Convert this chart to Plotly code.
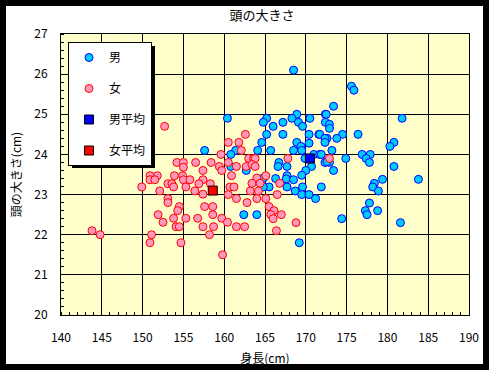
import plotly.graph_objects as go

# ---- data ----
male_height = [168.5, 175.6, 175.9, 173.4, 168.9, 172.4, 172.5, 160.4, 165.2, 168.3, 170.5, 181.8,
               164.8, 167.2, 169.1, 172.4, 172.9, 166.0, 169.6, 172.9, 165.2, 167.2, 170.4, 171.6,
               171.7, 174.5, 176.4, 172.6, 172.35, 173.8, 164.6, 168.9, 170.4, 172.35, 180.8, 169.4,
               180.3, 157.6, 161.4, 164.1, 165.7, 168.5, 169.5, 173.2, 160.8, 171.0, 171.7, 171.9,
               176.9, 177.9, 169.9, 174.9, 177.4, 166.7, 172.35, 172.9, 177.8, 172.6, 167.7, 166.6,
               170.7, 160.8, 180.8, 162.7, 170.0, 173.4, 169.5, 167.7, 164.8, 166.3, 167.6, 168.5,
               179.4, 183.8, 178.4, 165.5, 164.8, 167.7, 169.6, 171.9, 178.2, 168.7, 178.9, 169.5,
               170.4, 171.2, 177.8, 177.3, 178.8, 162.4, 164.0, 177.5, 174.4, 181.6, 169.2]
male_head = [26.1, 25.7, 25.6, 25.2, 25.0, 25.0, 25.0, 24.9, 24.9, 24.9, 24.9, 24.9,
             24.8, 24.8, 24.8, 24.8, 24.75, 24.7, 24.7, 24.65, 24.5, 24.5, 24.5, 24.5,
             24.5, 24.5, 24.5, 24.4, 24.4, 24.4, 24.3, 24.3, 24.28, 24.3, 24.3, 24.2,
             24.2, 24.1, 24.1, 24.1, 24.1, 24.1, 24.1, 24.1, 24.0, 24.0, 24.0, 24.0,
             24.0, 24.0, 23.9, 23.9, 23.9, 23.8, 23.8, 23.8, 23.8, 23.82, 23.7, 23.7,
             23.7, 23.7, 23.7, 23.6, 23.6, 23.6, 23.48, 23.47, 23.41, 23.4, 23.39, 23.37,
             23.38, 23.38, 23.28, 23.19, 23.19, 23.19, 23.19, 23.19, 23.19, 23.09, 23.09, 23.0,
             23.0, 22.9, 22.79, 22.6, 22.6, 22.5, 22.5, 22.5, 22.4, 22.3, 21.8]

female_height = [152.7, 162.6, 160.5, 161.8, 162.1, 159.6, 163.0, 163.6, 163.8, 167.8, 172.9,
                 154.2, 155.0, 156.5, 158.4, 160.5, 155.0, 159.4, 161.5, 162.7, 163.4, 163.8,
                 157.4, 159.7, 150.9, 151.8, 153.9, 154.9, 160.9, 165.1, 150.9, 151.5, 155.0,
                 155.8, 157.4, 164.0, 153.1, 153.6, 156.9, 158.3, 163.4, 164.4, 166.8, 149.9,
                 153.8, 155.3, 160.7, 161.2, 152.1, 156.4, 163.2, 164.2, 157.4, 160.5, 166.5,
                 153.1, 161.5, 164.0, 165.1, 153.1, 162.8, 154.5, 157.6, 158.6, 165.5, 154.3,
                 166.1, 151.9, 158.6, 165.7, 167.0, 153.8, 155.3, 156.75, 159.7, 166.0, 152.5,
                 160.4, 168.8, 154.1, 154.5, 157.4, 158.7, 161.5, 162.5, 143.8, 166.4, 144.8,
                 151.1, 158.2, 150.9, 154.7, 159.8]
female_head = [24.7, 24.5, 24.3, 24.3, 24.1, 24.0, 23.9, 23.9, 23.9, 23.9, 23.9,
               23.8, 23.8, 23.8, 23.8, 23.8, 23.68, 23.7, 23.7, 23.7, 23.75, 23.7,
               23.6, 23.6, 23.47, 23.47, 23.47, 23.47, 23.47, 23.47, 23.37, 23.37, 23.37,
               23.37, 23.37, 23.41, 23.27, 23.27, 23.27, 23.27, 23.28, 23.28, 23.28, 23.19,
               23.19, 23.19, 23.19, 23.19, 23.09, 23.09, 23.09, 23.09, 23.01, 23.0, 23.0,
               22.9, 22.9, 22.9, 22.9, 22.8, 22.8, 22.7, 22.7, 22.7, 22.7, 22.6,
               22.6, 22.5, 22.5, 22.5, 22.5, 22.41, 22.41, 22.41, 22.41, 22.4, 22.31,
               22.31, 22.3, 22.2, 22.2, 22.2, 22.2, 22.2, 22.2, 22.1, 22.1, 22.0,
               22.0, 22.0, 21.8, 21.8, 21.5]

male_avg_height = [170.5]
male_avg_head = [23.9]
female_avg_height = [158.6]
female_avg_head = [23.1]

x_ticks = [140, 145, 150, 155, 160, 165, 170, 175, 180, 185, 190]
y_ticks = [20, 21, 22, 23, 24, 25, 26, 27]

title_text = "頭の大きさ"
x_title = "身長(cm)"
y_title = "頭の大きさ(cm)"
names = ["男", "女", "男平均", "女平均"]

# ---- layout geometry ----
W, H = 489, 370
ML, MR, MT, MB = 61, 20, 34, 55
PW, PH = W - ML - MR, H - MT - MB


def px_x(px):
    return (px - ML) / PW


def px_y(py):
    return 1 - (py - MT) / PH


FONT = "Noto Sans CJK JP, MS UI Gothic, sans-serif"

fig = go.Figure()
fig.add_trace(go.Scatter(
    x=male_height, y=male_head, mode="markers", name=names[0], legendgroup="a",
    marker=dict(symbol="circle", size=8, color="#00CCFF", line=dict(color="#0000FF", width=1)),
))
fig.add_trace(go.Scatter(
    x=female_height, y=female_head, mode="markers", name=names[1], legendgroup="b",
    marker=dict(symbol="circle", size=8, color="#FF99BB", line=dict(color="#FF0000", width=1)),
))
fig.add_trace(go.Scatter(
    x=male_avg_height, y=male_avg_head, mode="markers", name=names[2], legendgroup="c",
    marker=dict(symbol="square", size=9, color="#0000FF", line=dict(color="#000000", width=1)),
))
fig.add_trace(go.Scatter(
    x=female_avg_height, y=female_avg_head, mode="markers", name=names[3], legendgroup="d",
    marker=dict(symbol="square", size=9, color="#FF0000", line=dict(color="#000000", width=1)),
))

axis_common = dict(
    showgrid=True, gridcolor="black", gridwidth=1,
    showline=True, linecolor="black", linewidth=1, mirror=True,
    zeroline=False, ticks="", color="black", automargin=False,
    tickfont=dict(family=FONT, size=12, color="black"),
)

fig.update_xaxes(
    range=[140, 190], tickvals=x_ticks, ticktext=[str(v) for v in x_ticks],
    ticklabelstandoff=12,
    title=dict(text=x_title, font=dict(family=FONT, size=12, color="black"), standoff=10),
    minor=dict(ticks="inside", dtick=1, ticklen=3, tickcolor="black", showgrid=False),
    **axis_common,
)
fig.update_yaxes(
    range=[20, 27], tickvals=y_ticks, ticktext=[str(v) for v in y_ticks],
    ticklabelstandoff=10,
    title=dict(text=y_title, font=dict(family=FONT, size=12, color="black"), standoff=10),
    minor=dict(ticks="inside", dtick=0.2, ticklen=3, tickcolor="black", showgrid=False),
    **axis_common,
)

shapes = [
    # outer black frame of the chart
    dict(type="rect", xref="paper", yref="paper", layer="above",
         x0=px_x(0), x1=px_x(W), y0=px_y(H), y1=px_y(0),
         line=dict(color="black", width=12), fillcolor="rgba(0,0,0,0)"),
    # legend drop shadow
    dict(type="rect", xref="paper", yref="paper", layer="above",
         x0=px_x(72), x1=px_x(155), y0=px_y(168), y1=px_y(46),
         line=dict(width=0), fillcolor="black"),
]

fig.update_layout(
    width=W, height=H,
    margin=dict(l=ML, r=MR, t=MT, b=MB, pad=0, autoexpand=False),
    paper_bgcolor="white", plot_bgcolor="#FFFFCC",
    title=dict(text=title_text, x=px_x(262), xref="paper", xanchor="center",
               y=1 - 15 / H, yanchor="middle",
               font=dict(family=FONT, size=13, color="black")),
    font=dict(family=FONT, size=12, color="black"),
    legend=dict(
        x=px_x(68), y=px_y(42), xanchor="left", yanchor="top",
        bgcolor="white", bordercolor="black", borderwidth=1,
        font=dict(family=FONT, size=12, color="black"),
        traceorder="grouped", tracegroupgap=12, itemwidth=30,
    ),
    shapes=shapes,
    showlegend=True,
)

fig.write_html("out.html", config={"displayModeBar": False},
               post_script="document.body.style.margin='0';")
